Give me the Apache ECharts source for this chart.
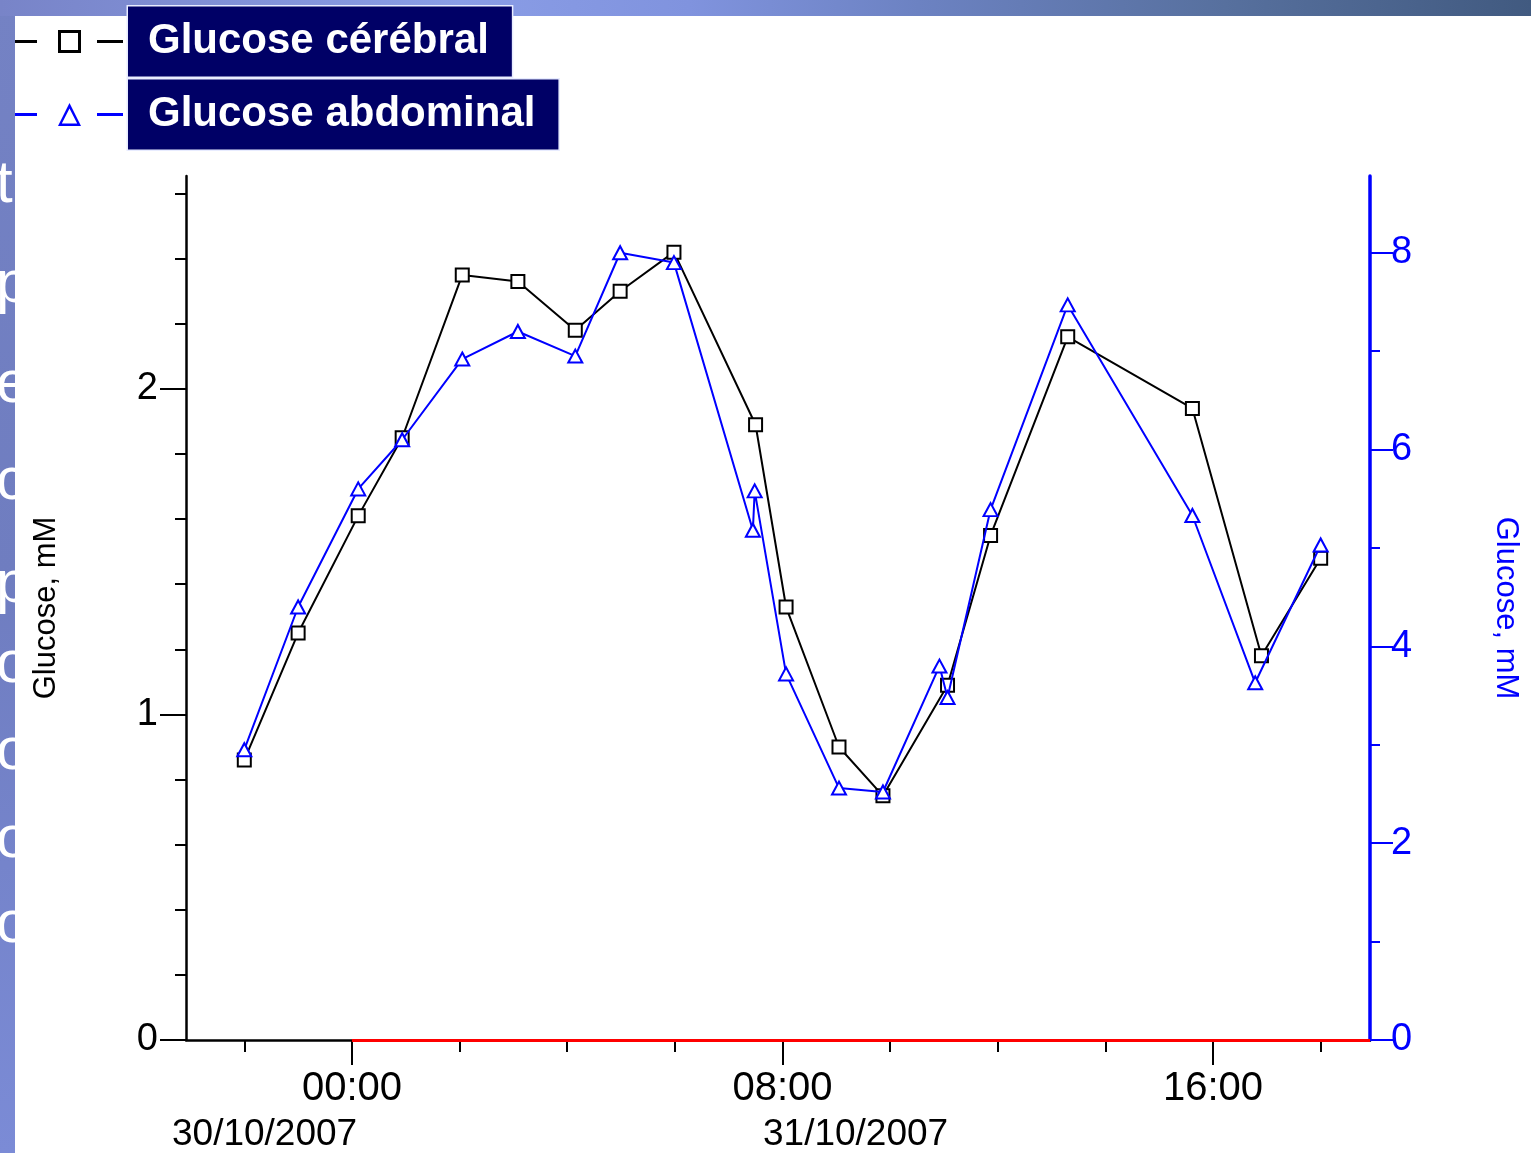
<!DOCTYPE html>
<html>
<head>
<meta charset="utf-8">
<title>Glucose cérébral / abdominal</title>
<script src="https://cdn.jsdelivr.net/npm/echarts@6/dist/echarts.min.js"></script>
<style>
  html, body { margin: 0; padding: 0; background: #ffffff; overflow: hidden; }
  #chart { width: 1531px; height: 1153px; }
</style>
</head>
<body>
<div id="chart"></div>
<script>
// Sampling times and glucose readings (mM)
const cerebralTimes = [
  '2007-10-30 22:00', '2007-10-30 23:00', '2007-10-31 00:07', '2007-10-31 00:56',
  '2007-10-31 02:03', '2007-10-31 03:05', '2007-10-31 04:09', '2007-10-31 04:59',
  '2007-10-31 05:59', '2007-10-31 07:30', '2007-10-31 08:04', '2007-10-31 09:03',
  '2007-10-31 09:52', '2007-10-31 11:04', '2007-10-31 11:52', '2007-10-31 13:18',
  '2007-10-31 15:37', '2007-10-31 16:54', '2007-10-31 18:00'
];
const cerebralValues = [
  0.86, 1.25, 1.61, 1.85, 2.35, 2.33, 2.18, 2.30, 2.42, 1.89,
  1.33, 0.90, 0.75, 1.09, 1.55, 2.16, 1.94, 1.18, 1.48
];

const abdominalTimes = [
  '2007-10-30 22:00', '2007-10-30 23:00', '2007-10-31 00:07', '2007-10-31 00:56',
  '2007-10-31 02:03', '2007-10-31 03:05', '2007-10-31 04:09', '2007-10-31 04:59',
  '2007-10-31 05:59', '2007-10-31 07:27', '2007-10-31 07:29', '2007-10-31 08:04',
  '2007-10-31 09:03', '2007-10-31 09:52', '2007-10-31 10:55', '2007-10-31 11:04',
  '2007-10-31 11:52', '2007-10-31 13:18', '2007-10-31 15:37', '2007-10-31 16:47',
  '2007-10-31 18:00'
];
const abdominalValues = [
  2.95, 4.40, 5.60, 6.10, 6.92, 7.20, 6.95, 8.00, 7.90, 5.18, 5.58,
  3.72, 2.56, 2.52, 3.80, 3.48, 5.39, 7.47, 5.33, 3.63, 5.03
];

// Axis ranges and tick positions
const timeOrigin = '2007-10-31 00:00';
const timeRange = ['2007-10-30 20:55', '2007-10-31 18:55'];
const timeMajorTicks = ['2007-10-31 00:00', '2007-10-31 08:00', '2007-10-31 16:00'];
const timeMinorTicks = [
  '2007-10-30 22:00', '2007-10-31 02:00', '2007-10-31 04:00', '2007-10-31 06:00',
  '2007-10-31 10:00', '2007-10-31 12:00', '2007-10-31 14:00', '2007-10-31 18:00'
];
const dateLabels = ['30/10/2007', '31/10/2007'];
const leftRange = [0, 2.654];
const leftMajorTicks = [0, 1, 2];
const leftMinorTicks = [0.2, 0.4, 0.6, 0.8, 1.2, 1.4, 1.6, 1.8, 2.2, 2.4, 2.6];
const rightRange = [0, 8.78];
const rightMajorTicks = [0, 2, 4, 6, 8];
const rightMinorTicks = [1, 3, 5, 7];
const seriesNames = ['Glucose cérébral', 'Glucose abdominal'];
const axisName = 'Glucose, mM';
const slideFragments = ['t', 'p', 'e', 'c', 'p', 'o', 'o', 'o', 'o'];

function toTime(s) {
  const parts = s.split(' ');
  const d = parts[0].split('-').map(Number);
  const t = parts[1].split(':').map(Number);
  return new Date(d[0], d[1] - 1, d[2], t[0], t[1]).getTime();
}
// hours elapsed since midnight of 31/10/2007
function toHours(s) { return (toTime(s) - toTime(timeOrigin)) / 3600000; }
function pad(n) { return (n < 10 ? '0' : '') + n; }
function clockLabel(h) {
  const total = Math.round(h * 60);
  const m = ((total % 1440) + 1440) % 1440;
  return pad(Math.floor(m / 60)) + ':' + pad(m % 60);
}

const FONT = "'Liberation Sans', Arial, sans-serif";
const BLUE = '#0000ff';

const chart = echarts.init(document.getElementById('chart'), null, { renderer: 'canvas' });

// Slide backdrop: blue strips along the top and left, white panel for the plot
const fragmentY = [185, 285, 385, 482, 585, 665, 752, 840, 925];
const backdrop = [
  {
    type: 'rect', z: -30, silent: true,
    shape: { x: 0, y: 0, width: 1531, height: 1153 },
    style: {
      fill: new echarts.graphic.LinearGradient(0, 0, 0, 1, [
        { offset: 0, color: '#7482c4' },
        { offset: 0.5, color: '#6f7dc0' },
        { offset: 1, color: '#7b8bd6' }
      ])
    }
  },
  {
    type: 'rect', z: -29, silent: true,
    shape: { x: 0, y: 0, width: 1531, height: 16 },
    style: {
      fill: new echarts.graphic.LinearGradient(0, 0, 1, 0, [
        { offset: 0, color: '#7884c8' },
        { offset: 0.3, color: '#8a9de6' },
        { offset: 0.45, color: '#8093de' },
        { offset: 0.6, color: '#6c82c2' },
        { offset: 0.8, color: '#57709e' },
        { offset: 1, color: '#415a80' }
      ])
    }
  }
];
slideFragments.forEach(function (ch, i) {
  backdrop.push({
    type: 'text', z: -28, silent: true,
    x: -4, y: fragmentY[i],
    style: {
      text: ch, fill: '#ffffff',
      font: '60px ' + FONT,
      textAlign: 'left', textVerticalAlign: 'middle'
    }
  });
});
backdrop.push({
  type: 'rect', z: -27, silent: true,
  shape: { x: 15, y: 16, width: 1516, height: 1137 },
  style: { fill: '#ffffff' }
});
// Date captions beneath the time axis
backdrop.push({
  type: 'text', z: 5, silent: true, x: 172, y: 1135,
  style: { text: dateLabels[0], fill: '#000', font: '37px ' + FONT, textAlign: 'left', textVerticalAlign: 'middle' }
});
backdrop.push({
  type: 'text', z: 5, silent: true, x: 763, y: 1135,
  style: { text: dateLabels[1], fill: '#000', font: '37px ' + FONT, textAlign: 'left', textVerticalAlign: 'middle' }
});

// Legend glyphs: line stub, hollow marker, line stub
const squareIcon = 'path://M0,10h22v3h-22z M43,0h23v23h-23z M46,3v17h17v-17z M82,10h26v3h-26z';
const triangleIcon = 'path://M0,10h22v3h-22z M54.5,0L66,23H43z M54.5,5.5L46.8,20.5H62.2z M82,10h26v3h-26z';

const option = {
  animation: false,
  backgroundColor: 'transparent',
  graphic: { elements: backdrop },
  legend: {
    left: 15, top: 5, padding: 0, orient: 'vertical', itemGap: 0,
    itemWidth: 108, itemHeight: 23, selectedMode: false,
    data: [
      { name: seriesNames[0], icon: squareIcon, itemStyle: { color: '#000000', borderWidth: 0 } },
      { name: seriesNames[1], icon: triangleIcon, itemStyle: { color: BLUE, borderWidth: 0 } }
    ],
    textStyle: {
      color: '#ffffff', fontFamily: FONT,
      fontWeight: 'bold', fontSize: 42,
      backgroundColor: '#000066', borderColor: '#e8ecff', borderWidth: 1.5,
      padding: [14, 23, 14, 20]
    }
  },
  grid: { left: 186, right: 161, top: 176, bottom: 113, containLabel: false, outerBoundsMode: 'none' },
  xAxis: [
    {
      type: 'value', position: 'bottom',
      min: toHours(timeRange[0]), max: toHours(timeRange[1]),
      axisLine: { show: true, onZero: false, lineStyle: { color: '#000', width: 2.5 } },
      axisTick: { show: true, customValues: timeMajorTicks.map(toHours), length: 25, lineStyle: { color: '#000', width: 2 } },
      axisLabel: {
        show: true, customValues: timeMajorTicks.map(toHours), margin: 29,
        color: '#000', fontSize: 40, fontFamily: FONT,
        formatter: clockLabel
      },
      splitLine: { show: false }
    },
    {
      type: 'value', position: 'bottom',
      min: toHours(timeRange[0]), max: toHours(timeRange[1]),
      axisLine: { show: false, onZero: false },
      axisTick: { show: true, customValues: timeMinorTicks.map(toHours), length: 12, lineStyle: { color: '#000', width: 2 } },
      axisLabel: { show: false },
      splitLine: { show: false }
    }
  ],
  yAxis: [
    {
      type: 'value', position: 'left', min: leftRange[0], max: leftRange[1],
      axisLine: { show: true, onZero: false, lineStyle: { color: '#000', width: 2.5 } },
      axisTick: { show: true, customValues: leftMajorTicks, length: 26, lineStyle: { color: '#000', width: 2 } },
      axisLabel: { show: true, customValues: leftMajorTicks, margin: 28, color: '#000', fontSize: 38, fontFamily: FONT },
      splitLine: { show: false },
      name: axisName, nameLocation: 'middle', nameRotate: 90, nameGap: 124,
      nameTextStyle: { color: '#000', fontSize: 31, fontFamily: FONT }
    },
    {
      type: 'value', position: 'left', min: leftRange[0], max: leftRange[1],
      axisLine: { show: false, onZero: false },
      axisTick: { show: true, customValues: leftMinorTicks, length: 11, lineStyle: { color: '#000', width: 2 } },
      axisLabel: { show: false },
      splitLine: { show: false }
    },
    {
      type: 'value', position: 'right', min: rightRange[0], max: rightRange[1],
      axisLine: { show: true, onZero: false, lineStyle: { color: BLUE, width: 3.5 } },
      axisTick: { show: true, customValues: rightMajorTicks, length: 23, lineStyle: { color: BLUE, width: 2 } },
      axisLabel: { show: true, customValues: rightMajorTicks, margin: 21, color: BLUE, fontSize: 38, fontFamily: FONT },
      splitLine: { show: false },
      name: axisName, nameLocation: 'middle', nameRotate: -90, nameGap: 120,
      nameTextStyle: { color: BLUE, fontSize: 31, fontFamily: FONT }
    },
    {
      type: 'value', position: 'right', min: rightRange[0], max: rightRange[1],
      axisLine: { show: false, onZero: false },
      axisTick: { show: true, customValues: rightMinorTicks, length: 10, lineStyle: { color: BLUE, width: 2 } },
      axisLabel: { show: false },
      splitLine: { show: false }
    }
  ],
  series: [
    {
      name: seriesNames[0], type: 'line', xAxisIndex: 0, yAxisIndex: 0,
      data: cerebralTimes.map(function (t, i) { return [toHours(t), cerebralValues[i]]; }),
      symbol: 'emptyRect', symbolSize: 13,
      lineStyle: { color: '#000', width: 2 },
      itemStyle: { color: '#000', borderWidth: 2.5 },
      markLine: {
        silent: true, symbol: 'none', label: { show: false },
        lineStyle: { color: '#ff0000', width: 3, type: 'solid' },
        data: [[
          { coord: [toHours(timeMajorTicks[0]), 0] },
          { coord: [toHours(timeRange[1]), 0] }
        ]]
      },
      z: 3
    },
    {
      name: seriesNames[1], type: 'line', xAxisIndex: 0, yAxisIndex: 2,
      data: abdominalTimes.map(function (t, i) { return [toHours(t), abdominalValues[i]]; }),
      symbol: 'emptyTriangle', symbolSize: [14, 13],
      lineStyle: { color: BLUE, width: 2 },
      itemStyle: { color: BLUE, borderWidth: 2 },
      z: 4
    }
  ]
};

chart.setOption(option);
</script>
</body>
</html>
